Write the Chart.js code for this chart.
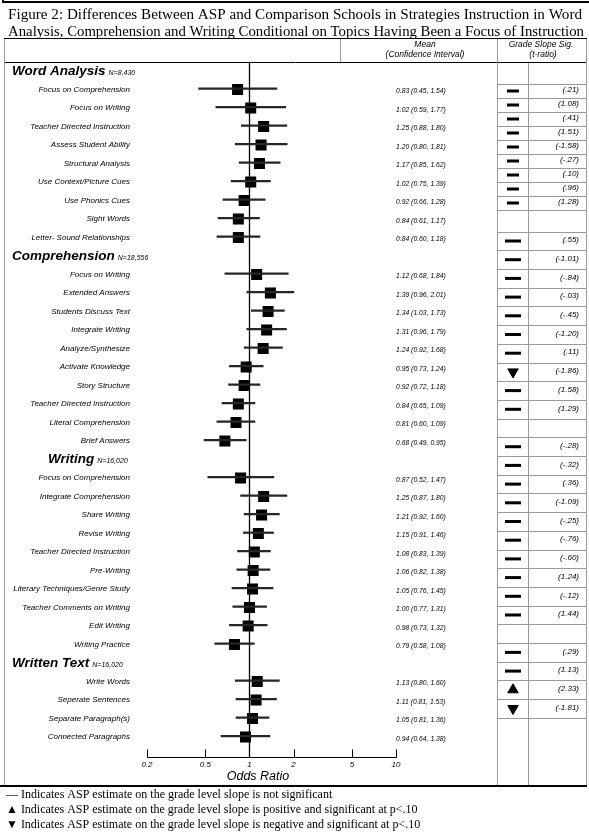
<!DOCTYPE html>
<html>
<head>
<meta charset="utf-8">
<script src="https://cdn.jsdelivr.net/npm/chart.js@4.4.0/dist/chart.umd.min.js"></script>
<style>
  html, body { margin: 0; padding: 0; background: #fff; }
  #wrap { width: 589px; height: 834px; }
</style>
</head>
<body>
<div id="wrap"><canvas id="forest" width="589" height="834"></canvas></div>
<script>
// ---- data ----
const sections = ['Word Analysis', 'Comprehension', 'Writing', 'Written Text'];
const sectionN = ['N=8,430', 'N=18,556', 'N=16,020', 'N=16,020'];
const sectionSizes = [9, 10, 10, 4];

const labels = [
  'Focus on Comprehension', 'Focus on Writing', 'Teacher Directed Instruction', 'Assess Student Ability',
  'Structural Analysis', 'Use Context/Picture Cues', 'Use Phonics Cues', 'Sight Words', 'Letter- Sound Relationships',
  'Focus on Writing', 'Extended Answers', 'Students Discuss Text', 'Integrate Writing', 'Analyze/Synthesize',
  'Activate Knowledge', 'Story Structure', 'Teacher Directed Instruction', 'Literal Comprehension', 'Brief Answers',
  'Focus on Comprehension', 'Integrate Comprehension', 'Share Writing', 'Revise Writing', 'Teacher Directed Instruction',
  'Pre-Writing', 'Literary Techniques/Genre Study', 'Teacher Comments on Writing', 'Edit Writing', 'Writing Practice',
  'Write Words', 'Seperate Sentences', 'Separate Paragraph(s)', 'Connected Paragraphs'
];
const means = [0.83, 1.02, 1.25, 1.20, 1.17, 1.02, 0.92, 0.84, 0.84,
  1.12, 1.39, 1.34, 1.31, 1.24, 0.95, 0.92, 0.84, 0.81, 0.68,
  0.87, 1.25, 1.21, 1.15, 1.08, 1.06, 1.05, 1.00, 0.98, 0.79,
  1.13, 1.11, 1.05, 0.94];
const lows = [0.45, 0.59, 0.88, 0.80, 0.85, 0.75, 0.66, 0.61, 0.60,
  0.68, 0.96, 1.03, 0.96, 0.92, 0.73, 0.72, 0.65, 0.60, 0.49,
  0.52, 0.87, 0.92, 0.91, 0.83, 0.82, 0.76, 0.77, 0.73, 0.58,
  0.80, 0.81, 0.81, 0.64];
const highs = [1.54, 1.77, 1.80, 1.81, 1.62, 1.39, 1.28, 1.17, 1.18,
  1.84, 2.01, 1.73, 1.79, 1.68, 1.24, 1.18, 1.09, 1.09, 0.95,
  1.47, 1.80, 1.60, 1.46, 1.39, 1.38, 1.45, 1.31, 1.32, 1.08,
  1.60, 1.53, 1.36, 1.38];
const tRatios = [0.21, 1.08, 0.41, 1.51, -1.58, -0.27, 0.10, 0.96, 1.28,
  0.55, -1.01, -0.84, -0.03, -0.45, -1.20, 0.11, -1.86, 1.58, 1.29,
  -0.28, -0.32, 0.36, -1.09, -0.25, -0.76, -0.60, 1.24, -0.12, 1.44,
  0.29, 1.13, 2.33, -1.81];
const tickValues = [0.2, 0.5, 1, 2, 5, 10];

// ---- layout ----
const W = 589, H = 834;
const AREA = { left: 5, right: 586, top: 40, bottom: 757 };
const ROW0_Y = 71, ROW_H = 18.5;          // forest rows
const X_LO_PX = 147, X_HI_PX = 396;       // where 0.2 and 10 sit
const T1 = { slot: 1, y: 91, h: 14 };     // word analysis cells of the right table
const T2 = { slot: 11, y: 241, h: 18.7 }; // remaining cells
const SIG_X = 513;
const HEAD_X = [12, 12, 48, 12];
const SANS = '"Liberation Sans", Arial, sans-serif';
const SERIF = '"Liberation Serif", "Times New Roman", serif';
const CRIT = 1.645;

// rows: a header row for each section, then its items
const rows = [];
let r = 0, k = 0;
sections.forEach((name, s) => {
  rows.push({ head: true, s, row: r++ });
  for (let i = 0; i < sectionSizes[s]; i++) rows.push({ head: false, s, k: k++, row: r++ });
});
const items = rows.filter(d => !d.head);

function linRange(v0, p0, ppu) {
  return { min: v0 - (p0 - AREA.top) / ppu, max: v0 + (AREA.bottom - p0) / ppu };
}
const decade = (X_HI_PX - X_LO_PX) / Math.log10(tickValues[tickValues.length - 1] / tickValues[0]);
const xMin = tickValues[0] / Math.pow(10, (X_LO_PX - AREA.left) / decade);
const xMax = tickValues[tickValues.length - 1] * Math.pow(10, (AREA.right - X_HI_PX) / decade);
const yR = linRange(0, ROW0_Y, ROW_H);
const yt1R = linRange(T1.slot, T1.y, T1.h);
const yt2R = linRange(T2.slot, T2.y, T2.h);

const fmtT = t => '(' + t.toFixed(2).replace(/^(-?)0\./, '$1.') + ')';
const fmtMean = i => `${means[i].toFixed(2)} (${lows[i].toFixed(2)}, ${highs[i].toFixed(2)})`;
const snap = v => Math.round(v) + 0.5;
const isSig = c => c.raw && Math.abs(c.raw.t) >= CRIT;

function hline(ctx, x1, x2, y) { ctx.beginPath(); ctx.moveTo(x1, y); ctx.lineTo(x2, y); ctx.stroke(); }
function vline(ctx, x, y1, y2) { ctx.beginPath(); ctx.moveTo(x, y1); ctx.lineTo(x, y2); ctx.stroke(); }
function fitText(ctx, str, x, y, width) {
  const w = ctx.measureText(str).width;
  ctx.save(); ctx.translate(x, y); ctx.scale(width / w, 1); ctx.fillText(str, 0, 0); ctx.restore();
}

const decor = {
  id: 'decor',
  beforeDatasetsDraw(chart) {
    const { ctx, scales: { x } } = chart;
    ctx.save();
    ctx.strokeStyle = '#000';
    ctx.lineWidth = 1.3;
    vline(ctx, Math.round(x.getPixelForValue(1)) + 0.5, 63, chart.chartArea.bottom);
    ctx.restore();
  },
  afterDraw(chart) {
    const { ctx, scales: { x, y, yt1, yt2 } } = chart;
    ctx.save();

    // frame
    ctx.strokeStyle = '#000';
    ctx.lineWidth = 2; hline(ctx, 3, W, 2); vline(ctx, 3, 0, 3);
    ctx.lineWidth = 1; hline(ctx, 4, 587, 38.5); hline(ctx, 4, 587, 62.5);
    ctx.lineWidth = 2; hline(ctx, 0, 587, 786);
    ctx.strokeStyle = '#9a9a9a'; ctx.lineWidth = 1;
    vline(ctx, 4.5, 39, 785); vline(ctx, 497.5, 39, 785); vline(ctx, 528.5, 63, 785); vline(ctx, 586.5, 39, 785);
    vline(ctx, 340.5, 39, 62);

    // table cells
    const firstEnd = sectionSizes[0];
    for (let s = 0.5; s < firstEnd + 1; s++) hline(ctx, 497, 587, snap(yt1.getPixelForValue(s)));
    for (let s = firstEnd + 1.5; s < rows.length; s++) hline(ctx, 497, 587, snap(yt2.getPixelForValue(s)));

    // axis line with upward ticks
    const by = chart.chartArea.bottom + 0.5;
    ctx.strokeStyle = '#000'; ctx.lineWidth = 1;
    hline(ctx, x.getPixelForValue(tickValues[0]), x.getPixelForValue(tickValues[tickValues.length - 1]) + 1, by);
    tickValues.forEach(v => vline(ctx, snap(x.getPixelForValue(v)), by - 8, by));

    ctx.fillStyle = '#000';
    ctx.textBaseline = 'middle';

    // title
    ctx.font = '14px ' + SERIF;
    ctx.textAlign = 'left';
    fitText(ctx, 'Figure 2: Differences Between ASP and Comparison Schools in Strategies Instruction in Word', 8, 15, 574);
    fitText(ctx, 'Analysis, Comprehension and Writing Conditional on Topics Having Been a Focus of Instruction', 8, 32, 576);

    // column headers
    ctx.font = 'italic 8.5px ' + SANS;
    ctx.textAlign = 'center';
    ctx.fillText('Mean', 425, 45);
    ctx.fillText('(Confidence Interval)', 425, 55);
    ctx.fillText('Grade Slope Sig.', 541, 45);
    ctx.fillText('(t-ratio)', 543, 55);

    // section headers
    rows.filter(d => d.head).forEach(d => {
      const py = y.getPixelForValue(d.row);
      ctx.textAlign = 'left';
      ctx.font = 'italic bold 13.5px ' + SANS;
      ctx.fillText(sections[d.s], HEAD_X[d.s], py);
      const w = ctx.measureText(sections[d.s]).width;
      ctx.font = 'italic 7px ' + SANS;
      ctx.fillText(sectionN[d.s], HEAD_X[d.s] + w + 3, py + 2);
    });

    // item labels, mean (CI) text, t-ratios
    items.forEach(d => {
      const py = y.getPixelForValue(d.row);
      ctx.font = 'italic 8px ' + SANS;
      ctx.textAlign = 'right';
      ctx.fillText(labels[d.k], 130, py);
      ctx.font = 'italic 6.8px ' + SANS;
      ctx.textAlign = 'left';
      ctx.fillText(fmtMean(d.k), 396, py + 2);
      const ty = (d.s === 0 ? yt1 : yt2).getPixelForValue(d.row);
      ctx.font = 'italic 8px ' + SANS;
      ctx.textAlign = 'right';
      ctx.fillText(fmtT(tRatios[d.k]), 579, ty - 1);
    });

    // axis title
    ctx.font = 'italic 12.5px ' + SANS;
    ctx.textAlign = 'center';
    ctx.fillText('Odds Ratio', 258, 777);

    // legend
    ctx.font = '12px ' + SERIF;
    ctx.textAlign = 'left';
    ctx.fillText('\u2014 Indicates ASP estimate on the grade level slope is not significant', 6, 795);
    ctx.fillText('\u25B2 Indicates ASP estimate on the grade level slope is positive and significant at p<.10', 6, 810);
    ctx.fillText('\u25BC Indicates ASP estimate on the grade level slope is negative and significant at p<.10', 6, 825);
    ctx.restore();
  }
};

function sigDataset(list, axis, dash) {
  return {
    type: 'scatter',
    xAxisID: 'xt',
    yAxisID: axis,
    data: list.map(d => ({ x: 0, y: d.row, t: tRatios[d.k] })),
    pointStyle: c => isSig(c) ? 'triangle' : 'line',
    pointRotation: c => (c.raw && c.raw.t < 0) ? 180 : 0,
    pointRadius: c => isSig(c) ? 6 : dash,
    pointBorderWidth: c => isSig(c) ? 1 : 3,
    pointBackgroundColor: '#000',
    pointBorderColor: '#000',
    clip: false
  };
}

new Chart(document.getElementById('forest'), {
  type: 'scatter',
  data: {
    datasets: [
      {
        type: 'bar',
        indexAxis: 'y',
        xAxisID: 'x',
        yAxisID: 'y',
        data: items.map(d => ({ x: [lows[d.k], highs[d.k]], y: d.row })),
        backgroundColor: '#262626',
        borderWidth: 0,
        barThickness: 1.6
      },
      {
        type: 'scatter',
        xAxisID: 'x',
        yAxisID: 'y',
        data: items.map(d => ({ x: means[d.k], y: d.row })),
        pointStyle: 'rect',
        pointRadius: 7.8,
        pointBorderWidth: 0,
        pointBackgroundColor: '#000'
      },
      sigDataset(items.filter(d => d.s === 0), 'yt1', 6),
      sigDataset(items.filter(d => d.s > 0), 'yt2', 8)
    ]
  },
  options: {
    responsive: false,
    animation: false,
    events: [],
    layout: {
      autoPadding: false,
      padding: { left: AREA.left, right: W - AREA.right, top: AREA.top, bottom: H - AREA.bottom - 20 }
    },
    plugins: { legend: { display: false }, tooltip: { enabled: false } },
    scales: {
      x: {
        type: 'logarithmic',
        position: 'bottom',
        min: xMin, max: xMax,
        bounds: 'data',
        offset: false,
        grid: { display: false, drawTicks: false },
        border: { display: false },
        afterBuildTicks: s => { s.ticks = tickValues.map(v => ({ value: v })); },
        afterFit: s => { s.height = 20; },
        ticks: {
          autoSkip: false, maxRotation: 0, padding: 3, color: '#000',
          font: { family: SANS, size: 8, style: 'italic' },
          callback: v => String(v)
        }
      },
      xt: { type: 'linear', display: false, offset: false, bounds: 'data',
        min: -(SIG_X - AREA.left), max: AREA.right - SIG_X },
      y: { type: 'linear', display: false, reverse: true, offset: false, bounds: 'data', beginAtZero: false,
        min: yR.min, max: yR.max },
      yt1: { type: 'linear', display: false, reverse: true, offset: false, bounds: 'data', beginAtZero: false,
        min: yt1R.min, max: yt1R.max },
      yt2: { type: 'linear', display: false, reverse: true, offset: false, bounds: 'data', beginAtZero: false,
        min: yt2R.min, max: yt2R.max }
    }
  },
  plugins: [decor]
});
</script>
</body>
</html>
